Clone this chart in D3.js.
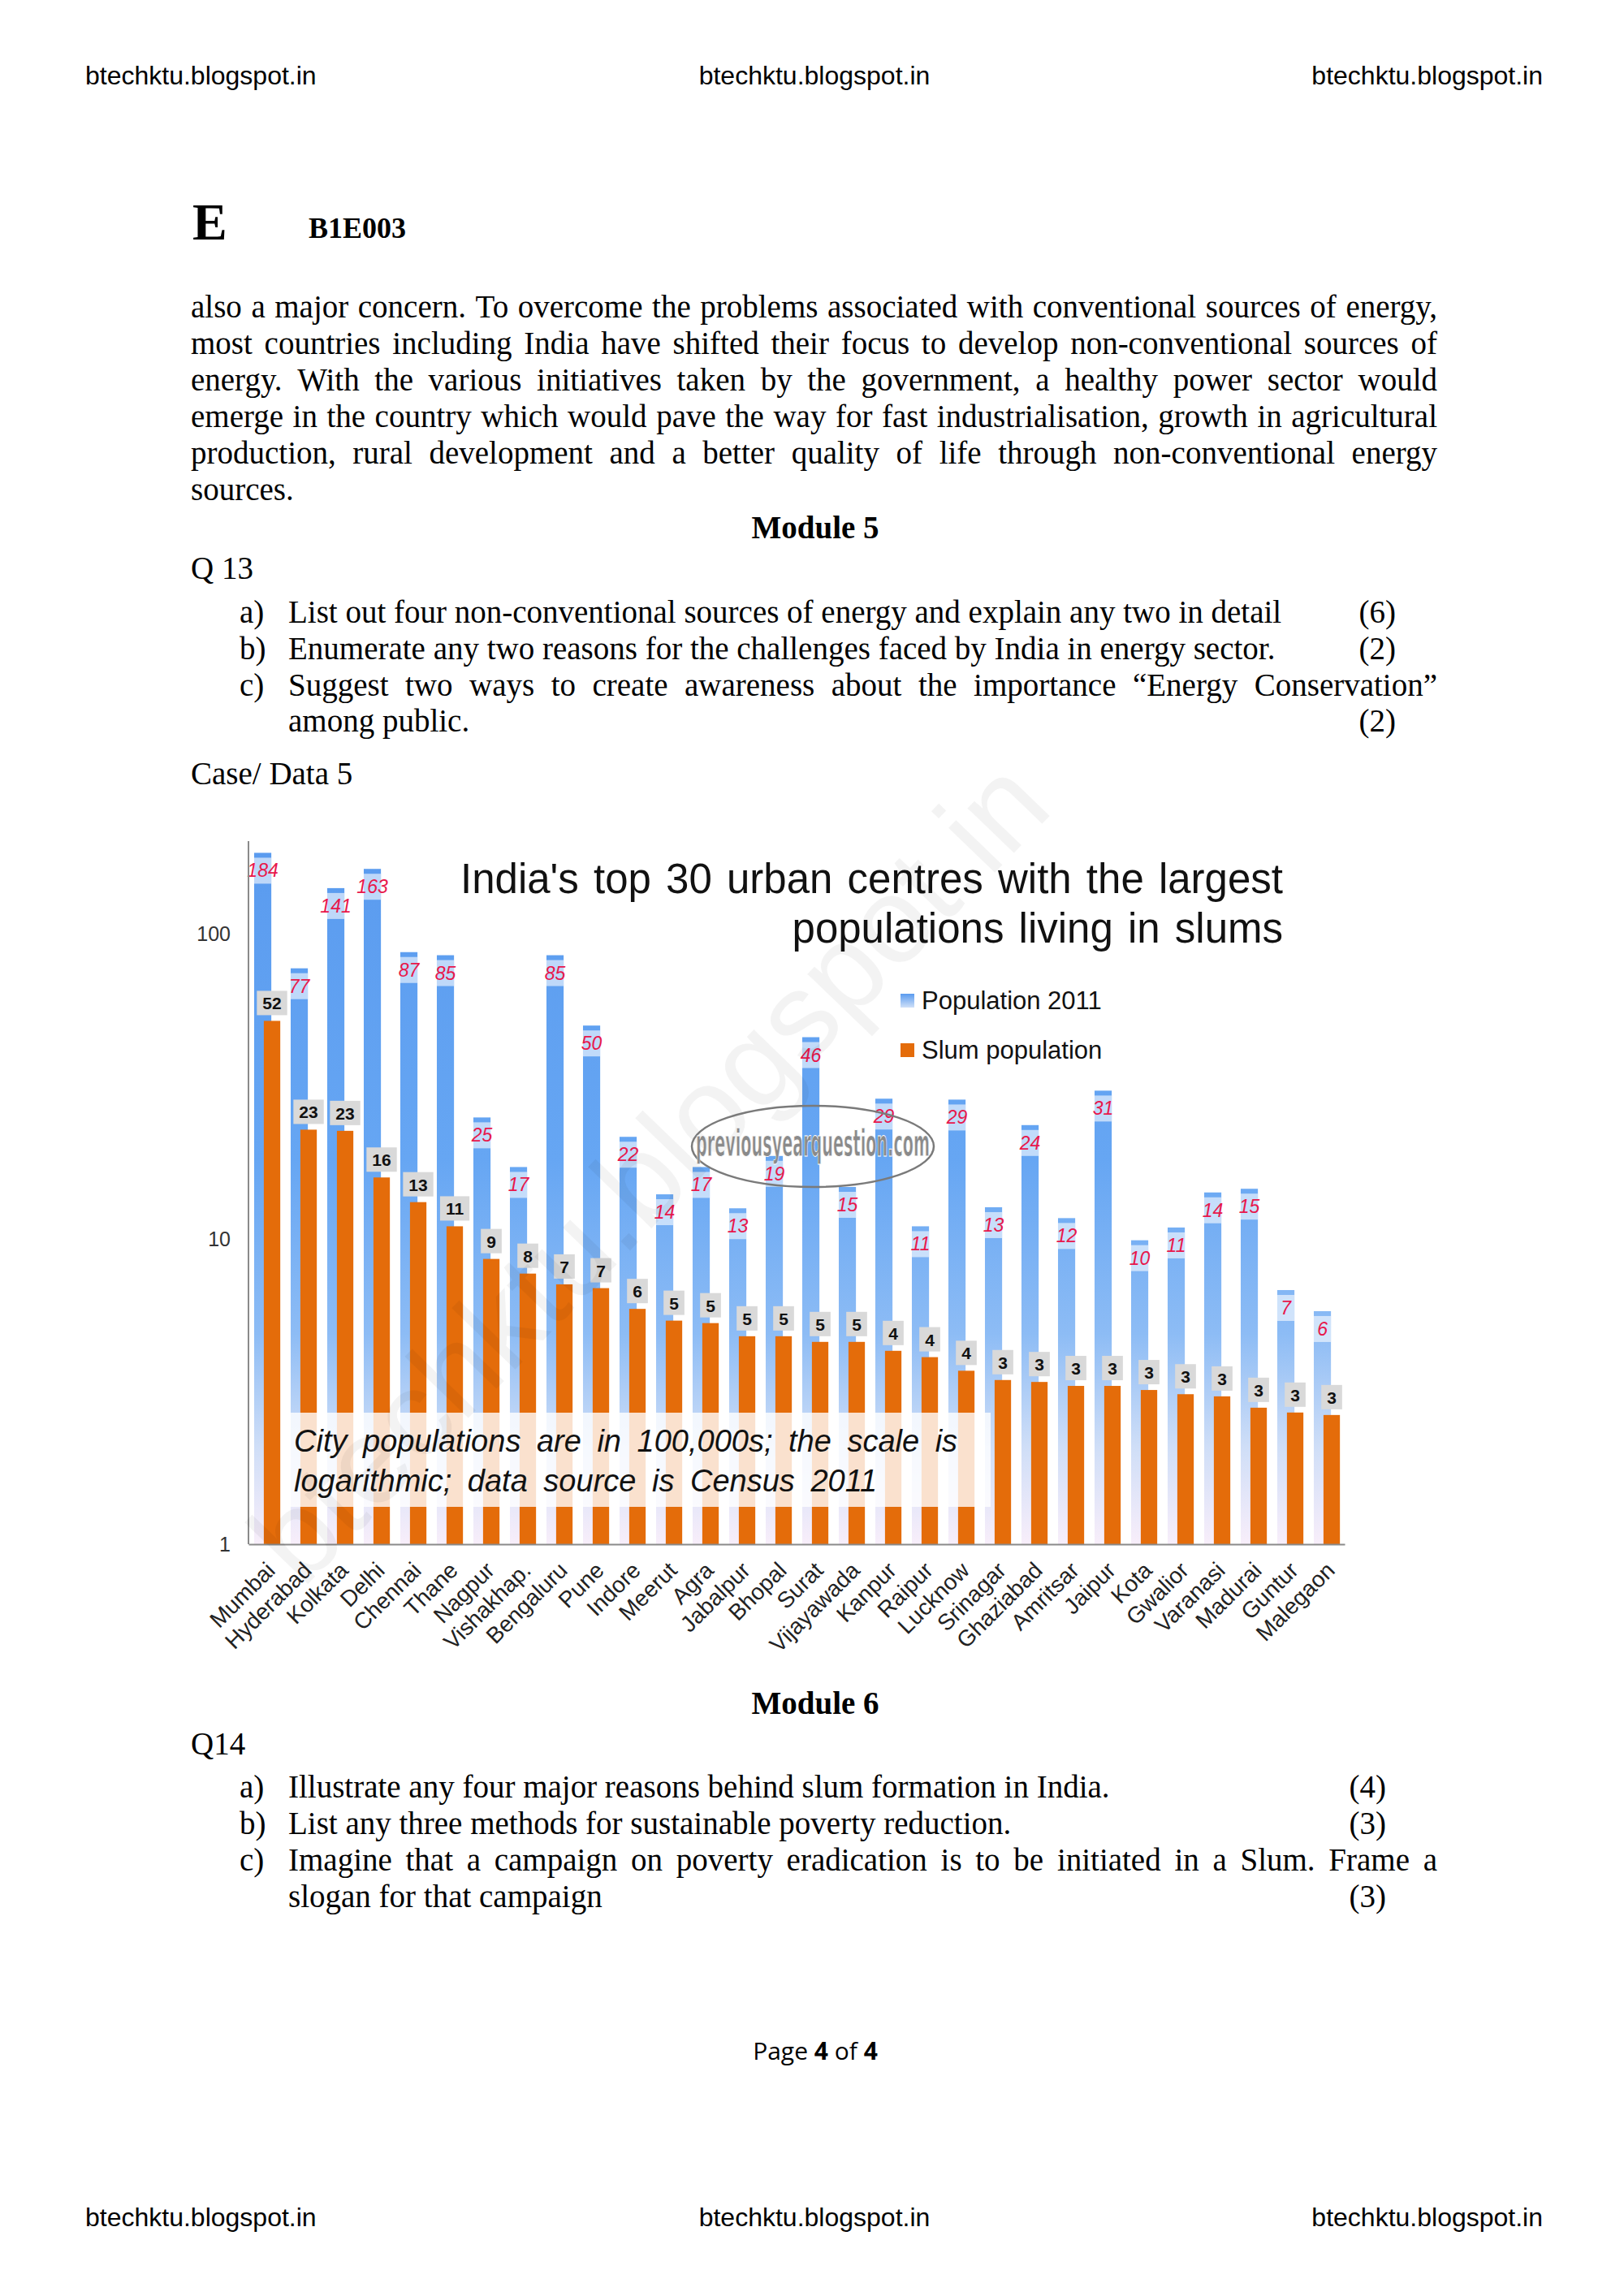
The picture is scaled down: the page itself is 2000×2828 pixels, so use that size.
<!DOCTYPE html>
<html><head><meta charset="utf-8">
<script src="https://cdn.jsdelivr.net/npm/d3@7"></script>
<style>body{margin:0;background:#fff} svg{display:block}</style>
</head><body>
<svg id="page" width="2000" height="2828"></svg>
<script>
// ---------------- DATA ----------------
const cities = ["Mumbai","Hyderabad","Kolkata","Delhi","Chennai","Thane","Nagpur","Vishakhap.","Bengaluru","Pune","Indore","Meerut","Agra","Jabalpur","Bhopal","Surat","Vijayawada","Kanpur","Raipur","Lucknow","Srinagar","Ghaziabad","Amritsar","Jaipur","Kota","Gwalior","Varanasi","Madurai","Guntur","Malegaon"];
const population2011 = [184, 77, 141, 163, 87, 85, 25, 17.2, 85, 50, 21.6, 14, 17.2, 12.6, 18.7, 45.8, 14.8, 28.8, 11, 28.6, 12.7, 23.6, 11.7, 30.6, 9.9, 10.9, 14.2, 14.6, 6.8, 5.8];
const slumPopulation = [51.8, 22.8, 22.6, 15.9, 13.2, 11.0, 8.6, 7.7, 7.1, 6.9, 5.9, 5.4, 5.3, 4.8, 4.8, 4.6, 4.6, 4.3, 4.1, 3.7, 3.45, 3.4, 3.3, 3.3, 3.2, 3.1, 3.05, 2.8, 2.7, 2.65];
const yTickValues = [1, 10, 100];
const seriesNames = ["Population 2011", "Slum population"];
const chartTitle = ["India's top 30 urban centres with the largest", "populations living in slums"];
const noteLines = ["City populations are in 100,000s; the scale is", "logarithmic; data source is Census 2011"];

const paragraph = [
 "also a major concern. To overcome the problems associated with conventional sources of energy,",
 "most countries including India have shifted their focus to develop non-conventional sources of",
 "energy. With the various initiatives taken by the government, a healthy power sector would",
 "emerge in the country which would pave the way for fast industrialisation, growth in agricultural",
 "production, rural development and a better quality of life through non-conventional energy",
 "sources."];
const q13 = [
 {k:"a)", t:"List out four non-conventional sources of energy and explain any two in detail", m:"(6)"},
 {k:"b)", t:"Enumerate any two reasons for the challenges faced by India in energy sector.", m:"(2)"},
 {k:"c)", t:"Suggest two ways to create awareness about the importance \u201cEnergy Conservation\u201d", m:"", j:true},
 {k:"", t:"among public.", m:"(2)"}];
const q14 = [
 {k:"a)", t:"Illustrate any four major reasons behind slum formation in India.", m:"(4)"},
 {k:"b)", t:"List any three methods for sustainable poverty reduction.", m:"(3)"},
 {k:"c)", t:"Imagine that a campaign on poverty eradication is to be initiated in a Slum. Frame a", m:"", j:true},
 {k:"", t:"slogan for that campaign", m:"(3)"}];

// ---------------- PAGE ----------------
const svg = d3.select("#page");
svg.append("rect").attr("width",2000).attr("height",2828).attr("fill","#fff");
const SERIF = "'Liberation Serif','Times New Roman',serif";
const SANS = "'Liberation Sans',Arial,sans-serif";
const BODY = 39;

function plain(x, y, txt, opts={}) {
  return svg.append("text").attr("x",x).attr("y",y)
    .attr("font-family", opts.ff||SERIF).attr("font-size", opts.fs||BODY)
    .attr("font-weight", opts.fw||"normal").attr("text-anchor", opts.anchor||"start")
    .attr("fill", opts.fill||"#000").text(txt);
}
function justify(x0, x1, y, txt, opts={}) {
  const words = txt.split(" ");
  const t = svg.append("text").attr("y",y).attr("font-family",opts.ff||SERIF)
    .attr("font-size",opts.fs||BODY).attr("fill","#000");
  const spans = words.map(w => t.append("tspan").attr("x",x0).text(w));
  const widths = spans.map(s => s.node().getComputedTextLength());
  const total = d3.sum(widths);
  const gap = (x1 - x0 - total) / (words.length - 1);
  let cx = x0;
  spans.forEach((s,i) => { s.attr("x", cx); cx += widths[i] + gap; });
}

// header / footer
[[105,"start"],[1003,"middle"],[1900,"end"]].forEach(([x,a]) => {
  plain(x, 104, "btechktu.blogspot.in", {ff:SANS, fs:32, anchor:a});
  plain(x, 2742, "btechktu.blogspot.in", {ff:SANS, fs:32, anchor:a});
});
plain(237, 295, "E", {fs:64, fw:"bold"});
plain(380, 293, "B1E003", {fs:36, fw:"bold"});

const L = 235, R = 1770;
paragraph.forEach((line,i) => {
  const y = 391 + i*45;
  if (i < paragraph.length-1) justify(L, R, y, line); else plain(L, y, line);
});
plain(1004, 663, "Module 5", {fw:"bold", anchor:"middle"});
plain(L, 713, "Q 13");
q13.forEach((q,i) => {
  const y = 767 + i*44.8;
  if (q.k) plain(295, y, q.k);
  if (q.j) justify(355, R, y, q.t); else plain(355, y, q.t);
  if (q.m) plain(1719, y, q.m, {anchor:"end"});
});
plain(L, 966, "Case/ Data 5");

plain(1004, 2111, "Module 6", {fw:"bold", anchor:"middle"});
plain(L, 2161, "Q14");
q14.forEach((q,i) => {
  const y = 2214 + i*45;
  if (q.k) plain(295, y, q.k);
  if (q.j) justify(355, R, y, q.t); else plain(355, y, q.t);
  if (q.m) plain(1707, y, q.m, {anchor:"end"});
});
const pg = svg.append("text").attr("x",1004).attr("y",2537).attr("text-anchor","middle")
  .attr("font-family","'Open Sans',sans-serif").attr("font-size",30);
pg.append("tspan").text("Page ");
pg.append("tspan").attr("font-weight","bold").text("4");
pg.append("tspan").text(" of ");
pg.append("tspan").attr("font-weight","bold").text("4");

// ---------------- CHART ----------------
const x = d3.scaleBand().domain(cities).range([306, 1656]).paddingInner(0).paddingOuter(0);
const y = d3.scaleLog().domain([1, 100]).range([1902, 1150]);
const bw = x.bandwidth();
const blueOff = bw*0.155, blueW = bw*0.47, orOff = bw*0.42, orW = bw*0.45;

const defs = svg.append("defs");
const g1 = defs.append("linearGradient").attr("id","blueGrad").attr("gradientUnits","userSpaceOnUse")
  .attr("x1",0).attr("y1",1040).attr("x2",0).attr("y2",1902);
[[0,"#5a9bef"],[0.45,"#66a6f3"],[0.7,"#8dbcf5"],[0.86,"#cfdef7"],[1,"#f8eefa"]]
  .forEach(([o,c]) => g1.append("stop").attr("offset",o).attr("stop-color",c));
const g2 = defs.append("linearGradient").attr("id","legGrad").attr("x1",0).attr("y1",0).attr("x2",0).attr("y2",1);
[[0,"#5a9bef"],[1,"#cfe0f8"]].forEach(([o,c]) => g2.append("stop").attr("offset",o).attr("stop-color",c));

const chart = svg.append("g");
// blue bars
chart.selectAll("rect.pop").data(cities).join("rect").attr("class","pop")
  .attr("x", d => x(d) + blueOff).attr("width", blueW)
  .attr("y", (d,i) => y(population2011[i])).attr("height", (d,i) => y(1) - y(population2011[i]))
  .attr("fill","url(#blueGrad)");
// blue label boxes
chart.selectAll("rect.popbox").data(cities).join("rect").attr("class","popbox")
  .attr("x", d => x(d) + blueOff).attr("width", blueW)
  .attr("y", (d,i) => y(population2011[i]) + 6).attr("height", 32)
  .attr("fill","#fff").attr("opacity",0.6);
chart.selectAll("text.poplab").data(cities).join("text").attr("class","poplab")
  .attr("x", d => x(d) + blueOff + blueW/2)
  .attr("y", (d,i) => y(population2011[i]) + 30)
  .attr("text-anchor","middle").attr("font-family",SANS).attr("font-style","italic")
  .attr("font-size",23).attr("fill","#e8174b")
  .text((d,i) => Math.round(population2011[i]));
// orange bars
chart.selectAll("rect.slum").data(cities).join("rect").attr("class","slum")
  .attr("x", d => x(d) + orOff).attr("width", orW)
  .attr("y", (d,i) => y(slumPopulation[i])).attr("height", (d,i) => y(1) - y(slumPopulation[i]))
  .attr("fill","#e46c0a");
// black labels with grey boxes
const sl = chart.selectAll("g.slumlab").data(cities).join("g").attr("class","slumlab")
  .attr("transform",(d,i) => `translate(${x(d)+orOff+orW/2},${y(slumPopulation[i])})`);
sl.append("text").attr("y",-14).attr("text-anchor","middle").attr("font-family",SANS)
  .attr("font-weight","bold").attr("font-size",21).attr("fill","#111")
  .text((d,i) => Math.round(slumPopulation[i]));
sl.each(function() {
  const g = d3.select(this); const t = g.select("text"); const w = t.node().getComputedTextLength() + 14;
  g.insert("rect","text").attr("x",-w/2).attr("y",-37).attr("width",w).attr("height",30).attr("fill","#d9d9d9");
});

// axes
const yAxis = d3.axisLeft(y).tickValues(yTickValues).tickSize(0).tickPadding(22).tickFormat(d3.format("d"));
const ya = svg.append("g").attr("transform","translate(306,0)").call(yAxis);
ya.select(".domain").remove();
ya.selectAll("text").attr("font-family",SANS).attr("font-size",25).attr("fill","#333");
svg.append("line").attr("x1",306).attr("x2",306).attr("y1",1036).attr("y2",1902).attr("stroke","#8a8a8a").attr("stroke-width",2);
const xAxis = d3.axisBottom(x).tickSize(0).tickPadding(0);
const xa = svg.append("g").attr("transform","translate(0,1902)").call(xAxis);
xa.select(".domain").attr("stroke","#8a8a8a").attr("stroke-width",2);
xa.selectAll(".tick text").attr("font-family",SANS).attr("font-size",28).attr("fill","#222")
  .attr("text-anchor","end").attr("dy",0).attr("y",0)
  .attr("transform","translate(12,34) rotate(-45)");

// note box
svg.append("rect").attr("x",350).attr("y",1740).attr("width",870).attr("height",116)
  .attr("fill","#fff").attr("opacity",0.8);
noteLines.forEach((t,i) => {
  svg.append("text").attr("x",362).attr("y",1788 + i*49).attr("font-family",SANS)
    .attr("font-style","italic").attr("font-size",38).attr("word-spacing",9).attr("fill","#111").text(t);
});

// title
chartTitle.forEach((t,i) => {
  svg.append("text").attr("x",1580).attr("y",1100 + i*61).attr("text-anchor","end")
    .attr("font-family",SANS).attr("font-size",51).attr("word-spacing",4).attr("fill","#111").text(t);
});

// legend
const leg = svg.append("g");
seriesNames.forEach((n,i) => {
  leg.append("rect").attr("x",1109).attr("y",1224 + i*61).attr("width",17).attr("height",17)
    .attr("fill", i===0 ? "url(#legGrad)" : "#e46c0a");
  leg.append("text").attr("x",1135).attr("y",1243 + i*61).attr("font-family",SANS)
    .attr("font-size",31).attr("fill","#111").text(n);
});

// watermarks
svg.append("text").attr("transform","translate(836,1478) rotate(-46)").attr("text-anchor","middle")
  .attr("font-family",SANS).attr("font-size",150).attr("fill","#000").attr("opacity",0.045)
  .text("btechktu.blogspot.in");
svg.append("ellipse").attr("cx",1001).attr("cy",1412).attr("rx",149).attr("ry",50)
  .attr("fill","none").attr("stroke","#7a7a7a").attr("stroke-width",2.5);
svg.append("text").attr("x",857).attr("y",1424).attr("textLength",288).attr("lengthAdjust","spacingAndGlyphs")
  .attr("font-family","'DejaVu Sans Condensed','DejaVu Sans',sans-serif").attr("font-weight","bold")
  .attr("font-size",46).attr("fill","#8a8a8a").attr("stroke","#fff").attr("stroke-width",0.8)
  .text("previousyearquestion.com");
</script>
</body></html>
